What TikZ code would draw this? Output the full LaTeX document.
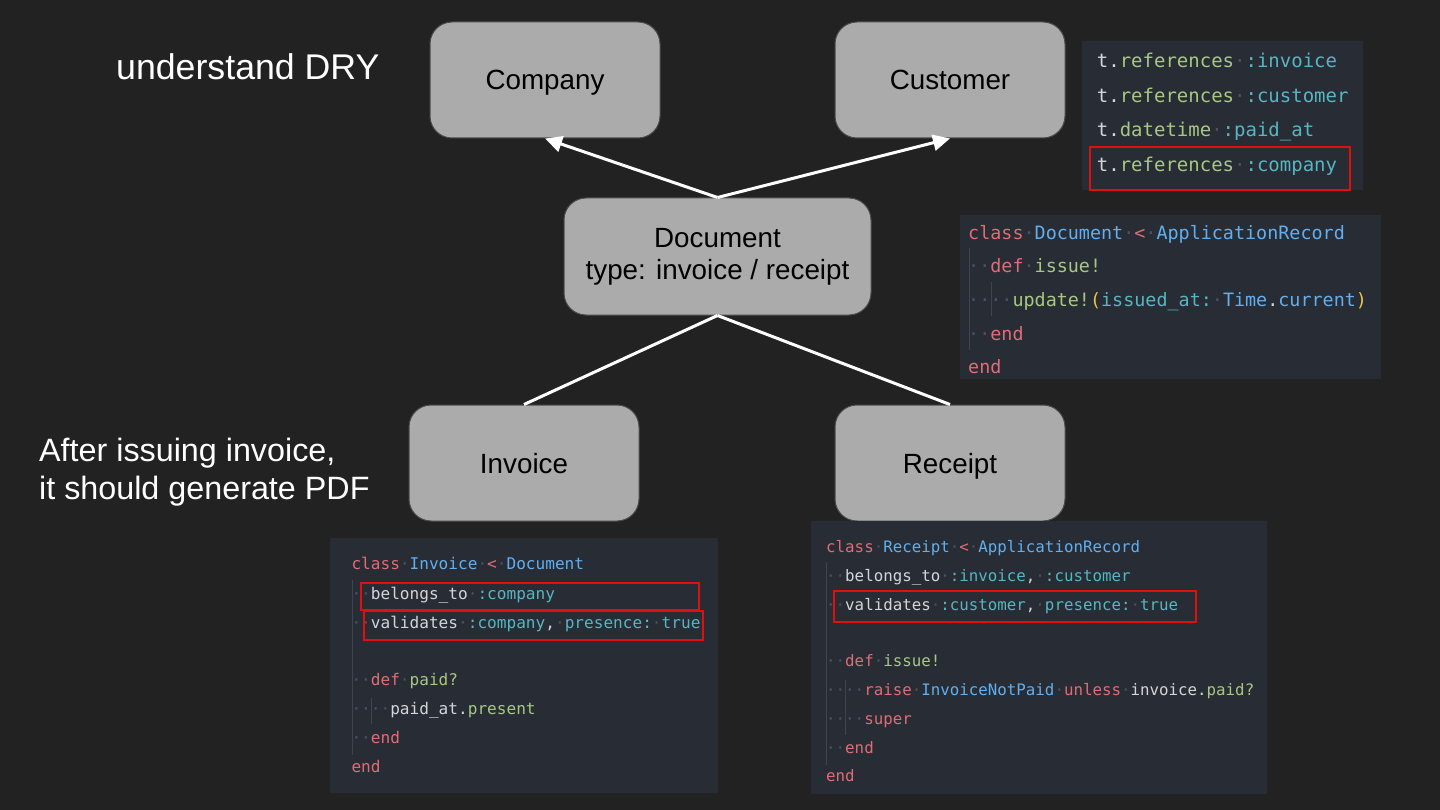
\documentclass[tikz,border=0pt]{standalone}
\usepackage{fontspec}
\setmainfont{Liberation Sans}
\newfontfamily\codefont{DejaVu Sans Mono}
\usetikzlibrary{arrows.meta}
\definecolor{bgc}{HTML}{222222}
\definecolor{codebg}{HTML}{282C34}
\definecolor{boxfill}{HTML}{ABABAB}
\definecolor{boxline}{HTML}{4A4A4A}
\definecolor{ckw}{HTML}{E06C75}
\definecolor{ccls}{HTML}{61AFEF}
\definecolor{cfn}{HTML}{A8C882}
\definecolor{csym}{HTML}{56B6C2}
\definecolor{cpl}{HTML}{D2D6DC}
\definecolor{cyel}{HTML}{E8C547}
\definecolor{cdot}{HTML}{4B5263}
\definecolor{cguide}{HTML}{3E4450}
\definecolor{redbox}{HTML}{E01010}
\newcommand\cxK[1]{\textcolor{ckw}{#1}}
\newcommand\cxB[1]{\textcolor{ccls}{#1}}
\newcommand\cxG[1]{\textcolor{cfn}{#1}}
\newcommand\cxC[1]{\textcolor{csym}{#1}}
\newcommand\cxP[1]{\textcolor{cpl}{#1}}
\newcommand\cxY[1]{\textcolor{cyel}{#1}}
\newcommand\cxD{\textcolor{cdot}{·}}
\tikzset{
  entitybase/.style={draw=boxline, line width=1pt, fill=boxfill, rounded corners=22pt,
    minimum width=230pt, minimum height=116pt, text=black, align=center,
    font=\fontsize{27.8}{32}\selectfont},
  entity/.style={entitybase, text height=22pt, text depth=2pt},
  arr/.style={draw=white, line width=3pt, -{Triangle[length=17pt,width=16pt]}},
  link/.style={draw=white, line width=3pt},
  codebox/.style={fill=codebg},
  redframe/.style={draw=redbox, line width=1.8pt},
  guide/.style={draw=cguide, line width=1pt},
  codeA/.style={font=\codefont\fontsize{19}{19}\selectfont, text=cpl, inner sep=0pt, anchor=base west},
  codeB/.style={font=\codefont\fontsize{18.4}{18.4}\selectfont, text=cpl, inner sep=0pt, anchor=base west},
  codeC/.style={font=\codefont\fontsize{16.1}{16.1}\selectfont, text=cpl, inner sep=0pt, anchor=base west},
  codeD/.style={font=\codefont\fontsize{15.8}{15.8}\selectfont, text=cpl, inner sep=0pt, anchor=base west},
  note/.style={text=white, inner sep=0pt, anchor=base west}
}
\begin{document}
\begin{tikzpicture}[x=1pt,y=-1pt]
\fill[bgc] (0,0) rectangle (1440,810);
\useasboundingbox (0,0) rectangle (1440,810);

% captions
\node[note, font=\fontsize{35.7}{40}\selectfont] (dry) at (116,80) {understand DRY};
\node[note, font=\fontsize{32.3}{38}\selectfont] (after1) at (39,461) {After issuing invoice,};
\node[note, font=\fontsize{32.3}{38}\selectfont] (after2) at (39,499) {it should generate PDF};

% entities
\node[entity] (comp) at (545,80) {Company};
\node[entity] (cust) at (950,80) {Customer};
\node[entitybase, minimum width=307pt, minimum height=117pt] (doc) at (717.5,256.5) {Document\\type: invoice / receipt};
\node[entity] (inv) at (524,463) {Invoice};
\node[entity] (rec) at (950,463) {Receipt};

\draw[arr] (doc.north) -- (comp.south);
\draw[arr] (doc.north) -- (cust.south);
\draw[link] (doc.south) -- (inv.north);
\draw[link] (doc.south) -- (rec.north);

% schema code
\fill[codebox] (1082,41) rectangle (1363,190);
\node[codeA] (s1) at (1096.7,68) {\cxP{t.}\cxG{references}\cxD\cxC{:invoice}};
\node[codeA] (s2) at (1096.7,103) {\cxP{t.}\cxG{references}\cxD\cxC{:customer}};
\node[codeA] (s3) at (1096.7,137) {\cxP{t.}\cxG{datetime}\cxD\cxC{:paid\_at}};
\node[codeA] (s4) at (1096.7,172) {\cxP{t.}\cxG{references}\cxD\cxC{:company}};
\draw[redframe] (1090,147) rectangle (1350,190);

% Document code
\fill[codebox] (960,215) rectangle (1381,379);
\draw[guide] (969,248) -- (969,350);
\draw[guide] (991,282) -- (991,316);
\node[codeB] (d1) at (968,240) {\cxK{class}\cxD\cxB{Document}\cxD\cxK{<}\cxD\cxB{ApplicationRecord}};
\node[codeB] (d2) at (968,273) {\cxD\cxD\cxK{def}\cxD\cxG{issue!}};
\node[codeB] (d3) at (968,306) {\cxD\cxD\cxD\cxD\cxG{update!}\cxY{(}\cxC{issued\_at:}\cxD\cxB{Time}\cxP{.}\cxB{current}\cxY{)}};
\node[codeB] (d4) at (968,340) {\cxD\cxD\cxK{end}};
\node[codeB] (d5) at (968,373) {\cxK{end}};

% Invoice code
\fill[codebox] (330,538) rectangle (718,793);
\draw[guide] (352,580) -- (352,755);
\draw[guide] (371,698) -- (371,724);
\node[codeC] (i1) at (351.3,569) {\cxK{class}\cxD\cxB{Invoice}\cxD\cxK{<}\cxD\cxB{Document}};
\node[codeC] (i2) at (351.3,599) {\cxD\cxD\cxP{belongs\_to}\cxD\cxC{:company}};
\node[codeC] (i3) at (351.3,628) {\cxD\cxD\cxP{validates}\cxD\cxC{:company}\cxP{,}\cxD\cxC{presence:}\cxD\cxC{true}};
\node[codeC] (i5) at (351.3,685.5) {\cxD\cxD\cxK{def}\cxD\cxG{paid?}};
\node[codeC] (i6) at (351.3,714) {\cxD\cxD\cxD\cxD\cxP{paid\_at.}\cxG{present}};
\node[codeC] (i7) at (351.3,743.5) {\cxD\cxD\cxK{end}};
\node[codeC] (i8) at (351.3,772) {\cxK{end}};
\draw[redframe] (361,583) rectangle (699,610);
\draw[redframe] (364,611) rectangle (703,640);

% Receipt code
\fill[codebox] (811,521) rectangle (1267,794);
\draw[guide] (826,562) -- (826,765);
\draw[guide] (845,680) -- (845,735);
\node[codeD] (r1) at (826,552.3) {\cxK{class}\cxD\cxB{Receipt}\cxD\cxK{<}\cxD\cxB{ApplicationRecord}};
\node[codeD] (r2) at (826,581.7) {\cxD\cxD\cxP{belongs\_to}\cxD\cxC{:invoice}\cxP{,}\cxD\cxC{:customer}};
\node[codeD] (r3) at (826,610) {\cxD\cxD\cxP{validates}\cxD\cxC{:customer}\cxP{,}\cxD\cxC{presence:}\cxD\cxC{true}};
\node[codeD] (r5) at (826,666.7) {\cxD\cxD\cxK{def}\cxD\cxG{issue!}};
\node[codeD] (r6) at (826,695) {\cxD\cxD\cxD\cxD\cxK{raise}\cxD\cxB{InvoiceNotPaid}\cxD\cxK{unless}\cxD\cxP{invoice.}\cxG{paid?}};
\node[codeD] (r7) at (826,724) {\cxD\cxD\cxD\cxD\cxK{super}};
\node[codeD] (r8) at (826,753.3) {\cxD\cxD\cxK{end}};
\node[codeD] (r9) at (826,781.7) {\cxK{end}};
\draw[redframe] (834,591) rectangle (1196,622);
\end{tikzpicture}
\end{document}
